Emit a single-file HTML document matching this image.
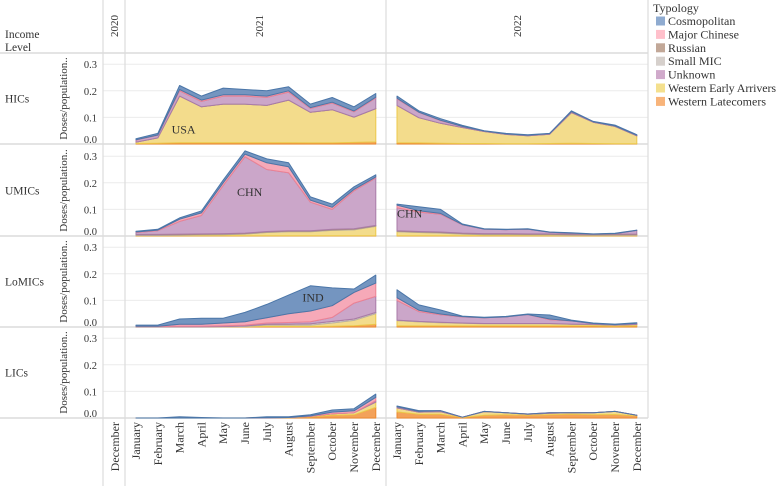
<!DOCTYPE html>
<html><head><meta charset="utf-8"><style>
html,body{margin:0;padding:0;background:#fff;}
body{width:777px;height:486px;overflow:hidden;font-family:"Liberation Serif","DejaVu Serif",serif;}
svg text{font-family:"Liberation Serif","DejaVu Serif",serif;fill:#333;}
</style></head><body>
<svg id="chart" width="777" height="486" viewBox="0 0 777 486" xmlns="http://www.w3.org/2000/svg"></svg>
<script>
// ---- data (index 0..11 = 2021 Jan..Dec, 12..23 = 2022 Jan..Dec) ----
const incomeLevels = ["HICs","UMICs","LoMICs","LICs"];
const monthLabels = ["January","February","March","April","May","June","July","August","September","October","November","December"];
const yearLabels = ["2020","2021","2022"];
const yTicks = [0.0,0.1,0.2,0.3];
const typologies = ["Western Latecomers","Western Early Arrivers","Small MIC","Russian","Unknown","Major Chinese","Cosmopolitan"];

const hicLatecomers = [.002,.003,.005,.005,.005,.005,.005,.005,.004,.004,.006,.008, .005,.004,.003,.002,.002,.001,.001,.002,.003,.002,.001,.001];
const hicEarly      = [.005,.02,.175,.135,.145,.145,.14,.16,.115,.125,.095,.125, .14,.095,.075,.06,.045,.035,.03,.035,.115,.08,.065,.03];
const hicSmall      = [0,0,0,0,0,0,0,0,0,0,0,0, 0,0,0,0,0,0,0,0,0,0,0,0];
const hicRussian    = [0,0,0,0,0,0,0,0,0,0,0,0, 0,0,0,0,0,0,0,0,0,0,0,0];
const hicUnknown    = [.008,.01,.02,.02,.03,.03,.03,.03,.015,.025,.02,.04, .025,.02,.01,.004,.002,.002,.002,.002,.004,.002,.002,.002];
const hicChinese    = [.001,.001,.005,.005,.005,.005,.005,.005,.003,.003,.003,.003, .002,.001,.001,0,0,0,0,0,0,0,0,0];
const hicCosmo      = [.004,.006,.015,.015,.025,.02,.02,.015,.013,.018,.016,.014, .008,.005,.006,.004,.001,.002,.002,.001,.003,.001,.003,.002];

const umicLatecomers = [.001,.001,.001,.001,.001,.001,.001,.001,.001,.001,.001,.001, .001,.001,.001,.001,.001,.001,.001,.001,.001,.001,.001,.001];
const umicEarly      = [.001,.001,.002,.003,.004,.006,.012,.015,.015,.02,.022,.035, .015,.012,.01,.006,.004,.004,.003,.003,.002,.002,.002,.002];
const umicSmall      = [.002,.002,.002,.002,.002,.002,.002,.002,.002,.002,.002,.002, .002,.002,.002,.002,.002,.002,.002,.002,.002,.001,.002,.002];
const umicRussian    = [.002,.002,.002,.002,.002,.002,.002,.002,.002,.002,.002,.002, .002,.002,.002,.002,.002,.002,.002,.002,.002,.002,.002,.002];
const umicUnknown    = [.007,.014,.048,.069,.181,.287,.233,.218,.107,.075,.143,.178, .086,.073,.067,.031,.017,.015,.018,.006,.004,.001,.002,.014];
const umicChinese    = [.002,.002,.008,.01,.01,.01,.025,.022,.008,.008,.005,.004, .01,.005,.003,.001,0,0,0,0,0,0,0,0];
const umicCosmo      = [.003,.003,.005,.007,.01,.012,.015,.015,.012,.012,.01,.008, .004,.015,.015,.002,.001,.001,.001,.001,.001,.001,.001,.001];

const lmicLatecomers = [.001,.001,.001,.001,.001,.001,.002,.002,.002,.003,.005,.01, .004,.004,.004,.004,.004,.004,.004,.004,.004,.004,.003,.004];
const lmicEarly      = [0,0,0,0,0,.001,.005,.005,.005,.012,.02,.04, .02,.015,.012,.01,.008,.008,.008,.008,.006,.005,.004,.005];
const lmicSmall      = [0,0,0,0,.001,.002,.003,.004,.005,.006,.005,.005, .002,.002,.002,.001,.001,.001,.001,.001,.001,.001,0,.001];
const lmicRussian    = [0,0,0,0,0,0,0,0,0,0,0,0, 0,0,0,0,0,0,0,0,0,0,0,0];
const lmicUnknown    = [.001,.001,.002,.002,.003,.003,.005,.006,.008,.015,.06,.06, .074,.037,.028,.023,.022,.025,.034,.015,.012,.003,.002,.004];
const lmicChinese    = [.001,.001,.007,.007,.01,.013,.02,.033,.04,.044,.04,.05, .01,.005,.003,.001,0,0,0,.002,0,0,0,0];
const lmicCosmo      = [.004,.004,.02,.023,.018,.035,.05,.07,.095,.067,.013,.03, .03,.02,.015,.002,.002,.002,.002,.015,.003,.002,.002,.002];

const licLatecomers = [0,0,0,0,0,0,.001,.001,.004,.01,.012,.04, .023,.014,.014,.002,.01,.012,.01,.012,.014,.012,.013,.008];
const licEarly      = [0,0,0,0,0,0,0,.001,.002,.006,.008,.02, .015,.008,.01,.001,.014,.008,.004,.006,.006,.008,.012,.002];
const licSmall      = [0,0,0,0,0,0,0,0,0,0,0,0, 0,0,0,0,0,0,0,0,0,0,0,0];
const licRussian    = [0,0,0,0,0,0,0,0,0,0,0,0, 0,0,0,0,0,0,0,0,0,0,0,0];
const licUnknown    = [0,0,0,0,0,0,0,0,0,0,0,.005, .004,.003,.003,0,.001,0,.001,.002,0,0,0,0];
const licChinese    = [0,0,0,0,0,0,0,0,.002,.006,.007,.013, 0,0,0,0,0,0,0,0,0,0,0,0];
const licCosmo      = [0,0,.005,.002,0,0,.004,.003,.004,.008,.008,.012, .003,.003,.001,0,0,0,0,0,0,0,0,0];

const seriesByLevel = [
  [hicLatecomers,hicEarly,hicSmall,hicRussian,hicUnknown,hicChinese,hicCosmo],
  [umicLatecomers,umicEarly,umicSmall,umicRussian,umicUnknown,umicChinese,umicCosmo],
  [lmicLatecomers,lmicEarly,lmicSmall,lmicRussian,lmicUnknown,lmicChinese,lmicCosmo],
  [licLatecomers,licEarly,licSmall,licRussian,licUnknown,licChinese,licCosmo]
];
const annotations = [["USA",0,2,0.04],["CHN",1,5,0.15],["CHN",1,12,0.07],["IND",2,8,0.095]];

// ---- styles ----
const fills   = ["#f3a25a","#f3dc8c","#d8d2cc","#c2a896","#cba6c9","#f6a9b8","#7495c0"];
const strokes = ["#ee8a30","#ecc94a","#b8b0aa","#a88c78","#a97ba8","#ec8294","#4b76a8"];
const swatch  = ["#f8b47a","#f4e08e","#d6d0cc","#c2a898","#d0aacb","#ffc0cb","#8fabd0"];

const NS="http://www.w3.org/2000/svg";
const svg=document.getElementById('chart');
function mk(tag,attrs,parent){const e=document.createElementNS(NS,tag);for(const k in attrs)e.setAttribute(k,attrs[k]);(parent||svg).appendChild(e);return e;}

const rowTop=[53,145,236,327];
const rowBase=[144,236,327,418];
const pxPerUnit=266;
function yOf(r,v){return rowBase[r]-v*pxPerUnit;}
function xOf(i){return i<12 ? 136+i*21.8 : 397+(i-12)*21.8;}

// grid
yTicks.forEach(t=>{ if(t===0) return;
  for(let r=0;r<4;r++){
    const g=mk('line',{x1:103,x2:648,y1:yOf(r,t),y2:yOf(r,t),stroke:'#ececec','stroke-width':1});
    
    
  }
});
// row separators
[53,144,236,327,418].forEach(y=>{
  const l=mk('line',{x1:0,x2:648,y1:y,y2:y,stroke:'#dcdcdc','stroke-width':1.5});
  
  
});
[[103,486],[125,486],[386,486],[648,418]].forEach(([x,y2])=>{
  const l=mk('line',{x1:x,x2:x,y1:0,y2:y2,stroke:'#dcdcdc','stroke-width':1.2});
  
  
});

// areas
for(let r=0;r<4;r++){
  const ser=seriesByLevel[r];
  [[0,12],[12,24]].forEach(([a,b])=>{
    let lower=new Array(24).fill(0);
    for(let s=0;s<ser.length;s++){
      const upper=lower.map((v,i)=>v+ser[s][i]);
      let d='';
      for(let i=a;i<b;i++) d+=(i===a?'M':'L')+xOf(i).toFixed(1)+','+yOf(r,upper[i]).toFixed(1);
      for(let i=b-1;i>=a;i--) d+='L'+xOf(i).toFixed(1)+','+yOf(r,lower[i]).toFixed(1);
      d+='Z';
      const p=mk('path',{d:d,fill:fills[s],stroke:strokes[s],'stroke-width':1,'stroke-linejoin':'round'});
      
      
      lower=upper;
    }
  });
}
// annotations
annotations.forEach(([txt,r,i,v])=>{
  const t=mk('text',{x:xOf(i)+(i===12?0:-8),y:yOf(r,v),'font-size':12,fill:'#222'});
  t.textContent=txt;
  
  
});

// row labels, axis titles, tick labels
for(let r=0;r<4;r++){
  const rl=mk('text',{x:5,y:(rowTop[r]+rowBase[r])/2+4,'font-size':11.5});
  rl.textContent=incomeLevels[r];
  
  
  const cy=(rowTop[r]+rowBase[r])/2;
  const at=mk('text',{x:0,y:0,'font-size':11,'text-anchor':'middle',transform:`translate(67,${cy}) rotate(-90)`});
  at.textContent='Doses/population..';
  
  
  yTicks.forEach(t=>{
    const tl=mk('text',{x:97,y:yOf(r,t)+(t===0?-1:4),'font-size':10.5,'text-anchor':'end',fill:'#555'});
    tl.textContent=t.toFixed(1);
    
    
  });
}
// header
const h1=mk('text',{x:5,y:38,'font-size':11.5}); h1.textContent='Income';


const h2=mk('text',{x:5,y:51,'font-size':11.5}); h2.textContent='Level';


[[114,0],[259,1],[517,2]].forEach(([x,k])=>{
  const t=mk('text',{x:0,y:0,'font-size':11,'text-anchor':'middle',transform:`translate(${x+4},26) rotate(-90)`});
  t.textContent=yearLabels[k];
  
  
});
// x labels
function xLabel(x,txt){
  const t=mk('text',{x:0,y:0,'font-size':12,'text-anchor':'end',transform:`translate(${x+4},422) rotate(-90)`});
  t.textContent=txt;
  
  
}
xLabel(115,'December');
for(let i=0;i<24;i++) xLabel(xOf(i),monthLabels[i%12]);

// legend
const lt=mk('text',{x:653,y:12,'font-size':12}); lt.textContent='Typology';


const legendOrder=[6,5,3,2,4,1,0];
legendOrder.forEach((s,k)=>{
  const y=21+k*13.4;
  const r=mk('rect',{x:656,y:y-4.5,width:9,height:9,fill:swatch[s]});
  
  
  const t=mk('text',{x:668,y:y+4,'font-size':12,textLength:s===1?108:null}); t.textContent=typologies[s];
  if(s!==1) t.removeAttribute('textLength');
  
  
});
</script>
</body></html>
